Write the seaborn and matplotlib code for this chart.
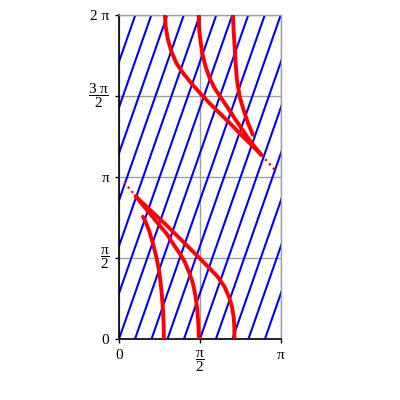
import numpy as np
import pandas as pd
import seaborn as sns
import matplotlib
matplotlib.use('Agg')
import matplotlib.pyplot as plt

# blue family of parallel lines: where each one crosses y = 0, and the common slope
blue_starts = [-2.20, -1.88, -1.57, -1.26, -0.94, -0.63, -0.31, 0.00, 0.31,
               0.63, 0.94, 1.26, 1.57, 1.88, 2.20, 2.51, 2.83]
blue_slope = 2.86

# red curves, lower half
bot_left_x = [0.87, 0.866, 0.853, 0.834, 0.808, 0.775, 0.724, 0.659, 0.581, 0.498, 0.465]
bot_left_y = [0.00, 0.30, 0.56, 0.82, 1.08, 1.34, 1.59, 1.85, 2.11, 2.31, 2.37]
bot_mid_x = [1.55, 1.538, 1.519, 1.486, 1.434, 1.370, 1.273, 1.176, 1.047, 0.918,
             0.756, 0.595, 0.434, 0.324]
bot_mid_y = [0.00, 0.30, 0.56, 0.82, 1.08, 1.27, 1.50, 1.66, 1.85, 2.05,
             2.24, 2.44, 2.63, 2.77]
bot_right_x = [2.24, 2.236, 2.223, 2.19, 2.132, 2.048, 1.919, 1.758, 1.570, 1.240,
               0.918, 0.595, 0.401, 0.324]
bot_right_y = [0.00, 0.24, 0.43, 0.63, 0.82, 1.01, 1.20, 1.37, 1.56, 1.89,
               2.21, 2.51, 2.69, 2.77]
bot_dots_x = [0.10, 0.324]
bot_dots_y = [3.04, 2.77]

# red curves, upper half
top_left_x = [0.891, 0.905, 0.950, 1.015, 1.112, 1.240, 1.403, 1.570, 1.758, 1.952,
              2.145, 2.339, 2.533, 2.694, 2.76]
top_left_y = [6.28, 6.06, 5.80, 5.58, 5.35, 5.16, 4.96, 4.77, 4.57, 4.38,
              4.19, 3.99, 3.80, 3.64, 3.57]
top_mid_x = [1.55, 1.55, 1.577, 1.616, 1.680, 1.758, 1.855, 1.984, 2.112, 2.242,
             2.372, 2.50, 2.63, 2.76]
top_mid_y = [6.28, 6.06, 5.80, 5.54, 5.28, 5.06, 4.86, 4.67, 4.48, 4.28,
             4.09, 3.90, 3.73, 3.57]
top_right_x = [2.209, 2.223, 2.242, 2.262, 2.287, 2.339, 2.417, 2.50, 2.597]
top_right_y = [6.28, 5.99, 5.67, 5.35, 5.03, 4.70, 4.44, 4.19, 3.96]
top_dots_x = [2.76, 3.04]
top_dots_y = [3.57, 3.26]

x_ticks = [0, np.pi / 2, np.pi]
x_labels = ['0', r'$\dfrac{\pi}{2}$', 'π']
y_ticks = [0, np.pi / 2, np.pi, 3 * np.pi / 2, 2 * np.pi]
y_labels = ['0', r'$\dfrac{\pi}{2}$', 'π', r'$\dfrac{3\ \pi}{2}$', '2 π']

sns.set_theme(style='white')
plt.rcParams['font.family'] = ['Liberation Serif', 'DejaVu Serif']
plt.rcParams['mathtext.fontset'] = 'custom'
plt.rcParams['mathtext.rm'] = 'Liberation Serif'
plt.rcParams['mathtext.it'] = 'Liberation Serif:italic'
plt.rcParams['mathtext.default'] = 'rm'

fig = plt.figure(figsize=(4, 4), dpi=100)
ax = fig.add_axes([0.2975, 0.1525, 0.405, 0.81])

# long-form table for the blue lines (one row per end point)
rise = 2 * np.pi
rows = []
for i, x0 in enumerate(blue_starts):
    rows.append({'line': i, 'x': x0, 'y': 0.0})
    rows.append({'line': i, 'x': x0 + rise / blue_slope, 'y': rise})
df_blue = pd.DataFrame(rows)

sns.lineplot(data=df_blue, x='x', y='y', units='line', estimator=None, sort=False,
             color='#0000ff', lw=1.5, ax=ax, zorder=2)

for cx, cy in [(bot_left_x, bot_left_y), (bot_mid_x, bot_mid_y), (bot_right_x, bot_right_y),
               (top_left_x, top_left_y), (top_mid_x, top_mid_y), (top_right_x, top_right_y)]:
    sns.lineplot(x=cx, y=cy, sort=False, estimator=None, color='#ff0000', lw=2.8,
                 ax=ax, zorder=3)

for dx, dy in [(bot_dots_x, bot_dots_y), (top_dots_x, top_dots_y)]:
    sns.lineplot(x=dx, y=dy, sort=False, estimator=None, color='#ff0000', lw=1.6,
                 ax=ax, zorder=3, linestyle=(0, (1, 1.6)))

ax.set_xlim(0, np.pi)
ax.set_ylim(0, 2 * np.pi)
ax.set_xticks(x_ticks)
ax.set_xticklabels(x_labels)
ax.set_yticks(y_ticks)
ax.set_yticklabels(y_labels)
# fractions are centred on their tick, plain labels sit on the baseline centre
for lab in ax.get_yticklabels():
    if 'frac' in lab.get_text():
        lab.set_verticalalignment('center')
ax.set_xlabel('')
ax.set_ylabel('')
ax.grid(True, color='#a0a0a0', lw=1)
ax.set_axisbelow(True)

for side in ['top', 'right']:
    ax.spines[side].set_color('#a0a0a0')
    ax.spines[side].set_linewidth(1)
for side in ['left', 'bottom']:
    ax.spines[side].set_color('black')
    ax.spines[side].set_linewidth(1.2)

ax.tick_params(axis='both', direction='out', length=3, width=1, color='black',
               labelsize=11, labelcolor='black', pad=4)
ax.tick_params(axis='x', bottom=True)
ax.tick_params(axis='y', left=True)

fig.savefig('out.png', dpi=100)
